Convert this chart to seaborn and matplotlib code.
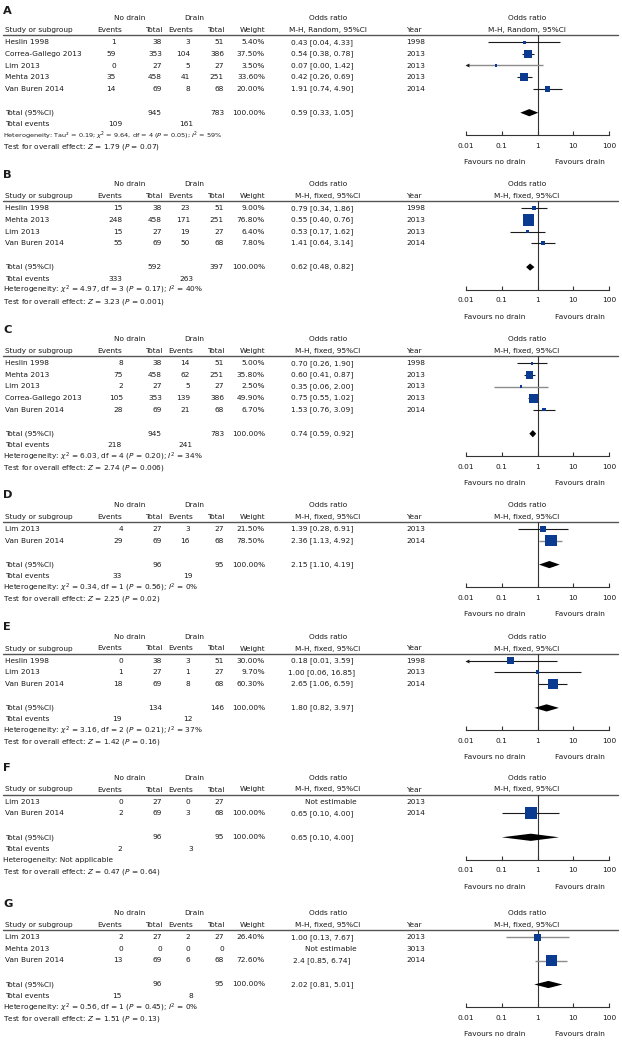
import numpy as np
import pandas as pd
import matplotlib
matplotlib.use("Agg")
import matplotlib.pyplot as plt
import seaborn as sns

# ----------------------------------------------------------------------
# DATA
# ----------------------------------------------------------------------
A_study = ["Heslin 1998", "Correa-Gallego 2013", "Lim 2013", "Mehta 2013", "Van Buren 2014"]
A_ev_nd = [1, 59, 0, 35, 14]
A_n_nd = [38, 353, 27, 458, 69]
A_ev_d = [3, 104, 5, 41, 8]
A_n_d = [51, 386, 27, 251, 68]
A_weight = [5.40, 37.50, 3.50, 33.60, 20.00]
A_or = ["0.43", "0.54", "0.07", "0.42", "1.91"]
A_lo = ["0.04", "0.38", "0.00", "0.26", "0.74"]
A_hi = ["4.33", "0.78", "1.42", "0.69", "4.90"]
A_year = [1998, 2013, 2013, 2013, 2014]
A_total = ["0.59", "0.33", "1.05"]
A_sums = [945, 783]
A_events = [109, 161]
A_het = "Heterogeneity: Tau² = 0.19; $\\chi^2$ = 9.64, df = 4 ($P$ = 0.05); $I^2$ = 59%"
A_test = "Test for overall effect: $Z$ = 1.79 ($P$ = 0.07)"

B_study = ["Heslin 1998", "Mehta 2013", "Lim 2013", "Van Buren 2014"]
B_ev_nd = [15, 248, 15, 55]
B_n_nd = [38, 458, 27, 69]
B_ev_d = [23, 171, 19, 50]
B_n_d = [51, 251, 27, 68]
B_weight = [9.00, 76.80, 6.40, 7.80]
B_or = ["0.79", "0.55", "0.53", "1.41"]
B_lo = ["0.34", "0.40", "0.17", "0.64"]
B_hi = ["1.86", "0.76", "1.62", "3.14"]
B_year = [1998, 2013, 2013, 2014]
B_total = ["0.62", "0.48", "0.82"]
B_sums = [592, 397]
B_events = [333, 263]
B_het = "Heterogeneity: $\\chi^2$ = 4.97, df = 3 ($P$ = 0.17); $I^2$ = 40%"
B_test = "Test for overall effect: $Z$ = 3.23 ($P$ = 0.001)"

C_study = ["Heslin 1998", "Mehta 2013", "Lim 2013", "Correa-Gallego 2013", "Van Buren 2014"]
C_ev_nd = [8, 75, 2, 105, 28]
C_n_nd = [38, 458, 27, 353, 69]
C_ev_d = [14, 62, 5, 139, 21]
C_n_d = [51, 251, 27, 386, 68]
C_weight = [5.00, 35.80, 2.50, 49.90, 6.70]
C_or = ["0.70", "0.60", "0.35", "0.75", "1.53"]
C_lo = ["0.26", "0.41", "0.06", "0.55", "0.76"]
C_hi = ["1.90", "0.87", "2.00", "1.02", "3.09"]
C_year = [1998, 2013, 2013, 2013, 2014]
C_total = ["0.74", "0.59", "0.92"]
C_sums = [945, 783]
C_events = [218, 241]
C_het = "Heterogeneity: $\\chi^2$ = 6.03, df = 4 ($P$ = 0.20); $I^2$ = 34%"
C_test = "Test for overall effect: $Z$ = 2.74 ($P$ = 0.006)"

D_study = ["Lim 2013", "Van Buren 2014"]
D_ev_nd = [4, 29]
D_n_nd = [27, 69]
D_ev_d = [3, 16]
D_n_d = [27, 68]
D_weight = [21.50, 78.50]
D_or = ["1.39", "2.36"]
D_lo = ["0.28", "1.13"]
D_hi = ["6.91", "4.92"]
D_year = [2013, 2014]
D_total = ["2.15", "1.10", "4.19"]
D_sums = [96, 95]
D_events = [33, 19]
D_het = "Heterogeneity: $\\chi^2$ = 0.34, df = 1 ($P$ = 0.56); $I^2$ = 0%"
D_test = "Test for overall effect: $Z$ = 2.25 ($P$ = 0.02)"

E_study = ["Heslin 1998", "Lim 2013", "Van Buren 2014"]
E_ev_nd = [0, 1, 18]
E_n_nd = [38, 27, 69]
E_ev_d = [3, 1, 8]
E_n_d = [51, 27, 68]
E_weight = [30.00, 9.70, 60.30]
E_or = ["0.18", "1.00", "2.65"]
E_lo = ["0.01", "0.06", "1.06"]
E_hi = ["3.59", "16.85", "6.59"]
E_year = [1998, 2013, 2014]
E_total = ["1.80", "0.82", "3.97"]
E_sums = [134, 146]
E_events = [19, 12]
E_het = "Heterogeneity: $\\chi^2$ = 3.16, df = 2 ($P$ = 0.21); $I^2$ = 37%"
E_test = "Test for overall effect: $Z$ = 1.42 ($P$ = 0.16)"

F_study = ["Lim 2013", "Van Buren 2014"]
F_ev_nd = [0, 2]
F_n_nd = [27, 69]
F_ev_d = [0, 3]
F_n_d = [27, 68]
F_weight = [None, 100.00]
F_or = [None, "0.65"]
F_lo = [None, "0.10"]
F_hi = [None, "4.00"]
F_year = [2013, 2014]
F_total = ["0.65", "0.10", "4.00"]
F_sums = [96, 95]
F_events = [2, 3]
F_het = "Heterogeneity: Not applicable"
F_test = "Test for overall effect: $Z$ = 0.47 ($P$ = 0.64)"

G_study = ["Lim 2013", "Mehta 2013", "Van Buren 2014"]
G_ev_nd = [2, 0, 13]
G_n_nd = [27, 0, 69]
G_ev_d = [2, 0, 6]
G_n_d = [27, 0, 68]
G_weight = [26.40, None, 72.60]
G_or = ["1.00", None, "2.4"]
G_lo = ["0.13", None, "0.85"]
G_hi = ["7.67", None, "6.74"]
G_year = [2013, 3013, 2014]
G_total = ["2.02", "0.81", "5.01"]
G_sums = [96, 95]
G_events = [15, 8]
G_het = "Heterogeneity: $\\chi^2$ = 0.56, df = 1 ($P$ = 0.45); $I^2$ = 0%"
G_test = "Test for overall effect: $Z$ = 1.51 ($P$ = 0.13)"

TICKS = [0.01, 0.1, 1, 10, 100]
TICK_LABELS = ["0.01", "0.1", "1", "10", "100"]

# ----------------------------------------------------------------------
# LAYOUT / STYLE
# ----------------------------------------------------------------------
W, H = 622, 1048
ROW = 11.6
INK = "#1a1a1a"
SQUARE = "#0b3a91"
FS = 5.3

panels = [
    ("A", 18.3, "Random", A_study, A_ev_nd, A_n_nd, A_ev_d, A_n_d, A_weight, A_or, A_lo, A_hi, A_year, A_total, A_sums, A_events, A_het, A_test),
    ("B", 184.3, "fixed", B_study, B_ev_nd, B_n_nd, B_ev_d, B_n_d, B_weight, B_or, B_lo, B_hi, B_year, B_total, B_sums, B_events, B_het, B_test),
    ("C", 339.3, "fixed", C_study, C_ev_nd, C_n_nd, C_ev_d, C_n_d, C_weight, C_or, C_lo, C_hi, C_year, C_total, C_sums, C_events, C_het, C_test),
    ("D", 505.0, "fixed", D_study, D_ev_nd, D_n_nd, D_ev_d, D_n_d, D_weight, D_or, D_lo, D_hi, D_year, D_total, D_sums, D_events, D_het, D_test),
    ("E", 636.7, "fixed", E_study, E_ev_nd, E_n_nd, E_ev_d, E_n_d, E_weight, E_or, E_lo, E_hi, E_year, E_total, E_sums, E_events, E_het, E_test),
    ("F", 777.7, "fixed", F_study, F_ev_nd, F_n_nd, F_ev_d, F_n_d, F_weight, F_or, F_lo, F_hi, F_year, F_total, F_sums, F_events, F_het, F_test),
    ("G", 913.3, "fixed", G_study, G_ev_nd, G_n_nd, G_ev_d, G_n_d, G_weight, G_or, G_lo, G_hi, G_year, G_total, G_sums, G_events, G_het, G_test),
]

# CI lines drawn in grey in the original
GREY_CI = {"A": ["Lim 2013"], "C": ["Lim 2013"], "D": ["Van Buren 2014"],
           "G": ["Lim 2013", "Van Buren 2014"]}

sns.set_theme(style="white")
plt.rcParams["font.family"] = ["DejaVu Sans"]
plt.rcParams["mathtext.fontset"] = "dejavusans"

fig = plt.figure(figsize=(W / 100, H / 100), dpi=100)
tx = fig.add_axes([0, 0, 1, 1])
tx.set_xlim(0, W)
tx.set_ylim(H, 0)
tx.axis("off")


def put(x, y, s, ha="left", **kw):
    tx.text(x, y, s, ha=ha, va="center", fontsize=kw.pop("fontsize", FS), color=INK, **kw)


for (letter, h1, method, study, ev_nd, n_nd, ev_d, n_d, weight, ors, los, his,
     years, total, sums, events, het, test) in panels:
    n = len(study)
    rows_y = h1 + 24 + ROW * np.arange(n)
    total_y = rows_y[-1] + 24
    events_y = total_y + 11.5
    het_y = total_y + 23
    test_y = total_y + 34.5
    sep_y = h1 + 17
    axis_y = het_y - 0.5
    ev_x = 116 if letter == "A" else 123
    mh = f"M-H, {method}, 95%CI"

    # headers
    put(3, max(h1 - 9.5, 11), letter, fontsize=8.2, fontweight="bold")
    put(130, h1, "No drain", ha="center")
    put(194, h1, "Drain", ha="center")
    put(328, h1, "Odds ratio", ha="center")
    put(527, h1, "Odds ratio", ha="center")
    y2 = h1 + 11.8
    put(5, y2, "Study or subgroup")
    put(122, y2, "Events", ha="right")
    put(162, y2, "Total", ha="right")
    put(193, y2, "Events", ha="right")
    put(224, y2, "Total", ha="right")
    put(265, y2, "Weight", ha="right")
    put(328, y2, mh, ha="center")
    put(406, y2, "Year")
    put(527, y2, mh, ha="center")
    tx.plot([3, 618], [sep_y, sep_y], color="#555555", lw=1.0)

    # study rows
    for i in range(n):
        y = rows_y[i]
        put(5, y, study[i])
        put(ev_x, y, str(ev_nd[i]), ha="right")
        put(162, y, str(n_nd[i]), ha="right")
        put(190, y, str(ev_d[i]), ha="right")
        put(224, y, str(n_d[i]), ha="right")
        if weight[i] is not None:
            put(265, y, f"{weight[i]:.2f}%", ha="right")
        if ors[i] is None:
            put(331, y, "Not estimable", ha="center")
        else:
            put(322, y, f"{ors[i]} [{los[i]}, {his[i]}]", ha="center")
        put(406, y, str(years[i]))

    # totals and footer
    put(5, total_y, "Total (95%CI)")
    put(162, total_y, str(sums[0]), ha="right")
    put(224, total_y, str(sums[1]), ha="right")
    put(265, total_y, "100.00%", ha="right")
    put(322, total_y, f"{total[0]} [{total[1]}, {total[2]}]", ha="center")
    put(5, events_y, "Total events")
    put(122, events_y, str(events[0]), ha="right")
    put(193, events_y, str(events[1]), ha="right")
    # the heterogeneity line of panel A is set a little tighter in the original
    put(3, het_y, het, fontsize=FS * 0.88 if letter == "A" else FS)
    put(3, test_y, test)
    put(495, axis_y + 27, "Favours no drain", ha="center")
    put(580, axis_y + 27, "Favours drain", ha="center")

    # forest axes
    fax = fig.add_axes([466 / W, 1 - axis_y / H, 143 / W, (axis_y - sep_y) / H])
    fax.set_facecolor("none")
    fax.set_xscale("log")
    fax.set_xlim(0.01, 100)
    fax.set_ylim(axis_y, sep_y)
    for side in ["top", "left", "right"]:
        fax.spines[side].set_visible(False)
    fax.spines["bottom"].set_color("#333333")
    fax.spines["bottom"].set_linewidth(0.8)
    fax.set_xticks(TICKS)
    fax.set_xticklabels(TICK_LABELS)
    fax.minorticks_off()
    fax.set_yticks([])
    fax.tick_params(axis="x", direction="in", length=3, width=0.8, color="#333333",
                    pad=5.5, labelsize=FS, labelcolor=INK, bottom=True)
    fax.axvline(1, color="#333333", lw=0.8, zorder=1)

    df = pd.DataFrame({
        "study": study,
        "y": rows_y,
        "weight": [np.nan if w is None else w for w in weight],
        "or": [np.nan if v is None else float(v) for v in ors],
        "lo": [np.nan if v is None else float(v) for v in los],
        "hi": [np.nan if v is None else float(v) for v in his],
    }).dropna()

    for _, r in df.iterrows():
        grey = r["study"] in GREY_CI.get(letter, [])
        col = "#8c8c8c" if grey else "#1a1a1a"
        lo = max(r["lo"], 0.01)
        fax.plot([lo, min(r["hi"], 100)], [r["y"], r["y"]], color=col,
                 lw=1.0 if grey else 0.8, zorder=2, solid_capstyle="butt")
        if r["lo"] <= 0.01:
            fax.plot(0.0108, r["y"], marker="<", ms=2.8, color="#1a1a1a",
                     mew=0, clip_on=False, zorder=3)

    sns.scatterplot(data=df, x="or", y="y", size="weight", sizes=(0, 85),
                    size_norm=(0, 100), marker="s", color=SQUARE, linewidth=0,
                    legend=False, ax=fax, zorder=4)
    fax.set_xlabel("")
    fax.set_ylabel("")

    # pooled diamond
    t_or, t_lo, t_hi = [float(v) for v in total]
    h = 3.6
    fax.fill([t_lo, t_or, t_hi, t_or], [total_y, total_y - h, total_y, total_y + h],
             color="black", lw=0, zorder=4)

fig.savefig("out.png", dpi=100)
